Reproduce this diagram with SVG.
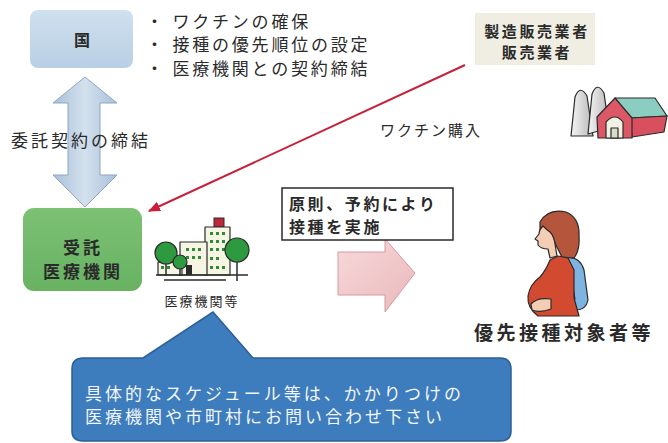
<svg xmlns="http://www.w3.org/2000/svg" width="668" height="443" viewBox="0 0 668 443">
  <defs>
    <style>
      .jp { font-family: "Noto Sans CJK JP", "Noto Sans CJK SC", "DejaVu Sans", sans-serif; fill: #2a2a2a; }
      .b { font-weight: bold; }
      .ink { stroke: #2a2a2a; stroke-width: 1.2; stroke-linejoin: round; }
      .win { fill: #2f8a3a; }
    </style>
    <linearGradient id="gBlue" x1="0" y1="0" x2="0" y2="1">
      <stop offset="0" stop-color="#cfe0ef"/>
      <stop offset="1" stop-color="#b9cfe4"/>
    </linearGradient>
    <linearGradient id="gGreen" x1="0" y1="0" x2="0" y2="1">
      <stop offset="0" stop-color="#7cc174"/>
      <stop offset="1" stop-color="#68b262"/>
    </linearGradient>
    <linearGradient id="gArrow" x1="0" y1="0" x2="1" y2="0">
      <stop offset="0" stop-color="#a9c0d8"/>
      <stop offset="0.5" stop-color="#d3e1ee"/>
      <stop offset="1" stop-color="#a9c0d8"/>
    </linearGradient>
    <linearGradient id="gPink" x1="0" y1="0" x2="1" y2="1">
      <stop offset="0" stop-color="#f7d9da"/>
      <stop offset="1" stop-color="#eab8bb"/>
    </linearGradient>
    <linearGradient id="gSilo" x1="0" y1="0" x2="1" y2="0">
      <stop offset="0" stop-color="#f4f4f4"/>
      <stop offset="1" stop-color="#b8b8b8"/>
    </linearGradient>
    <marker id="redHead" viewBox="0 0 12 10" refX="11" refY="5" markerWidth="12" markerHeight="10" markerUnits="userSpaceOnUse" orient="auto">
      <path d="M0 0 L12 5 L0 10 Z" fill="#c8203a"/>
    </marker>
  </defs>

  <rect width="668" height="443" fill="#ffffff"/>

  <!-- connectors -->
  <g id="connectors">
    <!-- two-way contract arrow -->
    <path d="M85 77 L117 103 L100 103 L100 175 L117 175 L85 207 L53 175 L68 175 L68 103 L53 103 Z"
          fill="url(#gArrow)" stroke="#8ea6c0" stroke-width="1"/>
    <!-- vaccine purchase line -->
    <line x1="465" y1="65" x2="149" y2="211" stroke="#c8203a" stroke-width="2" marker-end="url(#redHead)"/>
    <!-- vaccination block arrow -->
    <path d="M338 252 L385 252 L385 239 L415 273 L385 312 L385 295 L338 295 Z"
          fill="url(#gPink)" stroke="#d39aa0" stroke-width="1"/>
  </g>

  <!-- national government -->
  <g id="kuni">
    <rect x="30" y="10" width="103" height="58" rx="8" fill="url(#gBlue)"/>
    <text class="jp b" x="82" y="46" font-size="16" text-anchor="middle" fill="#1e2b45">国</text>
  </g>

  <!-- government duties -->
  <g id="duties">
    <text class="jp" x="146" y="28" font-size="17" letter-spacing="2.8">・ ワクチンの確保</text>
    <text class="jp" x="146" y="51" font-size="17" letter-spacing="2.8">・ 接種の優先順位の設定</text>
    <text class="jp" x="146" y="75" font-size="17" letter-spacing="2.8">・ 医療機関との契約締結</text>
  </g>

  <text id="contract-label" class="jp" x="11" y="147" font-size="17" letter-spacing="3">委託契約の締結</text>

  <!-- manufacturer -->
  <g id="maker">
    <rect x="475" y="13" width="120" height="52" fill="#f0ede2"/>
    <text class="jp b" x="537" y="37" font-size="15" letter-spacing="2.6" text-anchor="middle">製造販売業者</text>
    <text class="jp b" x="537" y="58" font-size="15" letter-spacing="2.6" text-anchor="middle">販売業者</text>
  </g>

  <!-- factory illustration -->
  <g id="factory">
    <path class="ink" d="M571 136 L575 97 Q580 84 587 96 L593 136 Z" fill="url(#gSilo)"/>
    <path class="ink" d="M588 134 L592 94 Q597 81 604 93 L609 128 Z" fill="url(#gSilo)"/>
    <!-- roof -->
    <path class="ink" d="M615 98 L655 98 L667 116 L630 118 Z" fill="#8ccdc2"/>
    <!-- side wall -->
    <path class="ink" d="M630 118 L667 116 L664 132 L632 137 Z" fill="#d8505e"/>
    <!-- gable front -->
    <path class="ink" d="M597 117 L615 98 L632 118 L632 138 L598 138 Z" fill="#dc5866"/>
    <path class="ink" d="M606 122 Q615 112 623 122 L623 138 L606 138 Z" fill="#f1f0e4"/>
    <rect class="ink" x="611" y="128" width="7" height="10" fill="#d9dcc8"/>
  </g>

  <text id="purchase-label" class="jp" x="380" y="136" font-size="15" letter-spacing="2">ワクチン購入</text>

  <!-- contracted medical institution -->
  <g id="iryokikan">
    <rect x="23" y="208" width="119" height="83" rx="11" fill="url(#gGreen)"/>
    <text class="jp b" x="83" y="254" font-size="17" letter-spacing="3" text-anchor="middle" fill="#1c2a1c">受託</text>
    <text class="jp b" x="83" y="278" font-size="17" letter-spacing="3" text-anchor="middle" fill="#1c2a1c">医療機関</text>
  </g>

  <!-- hospital illustration -->
  <g id="hospital">
    <rect x="214" y="218" width="10" height="9" fill="#c0283a" stroke="#2a2a2a" stroke-width="1"/>
    <rect class="ink" x="205" y="227" width="25" height="48" fill="#f6f4e2"/>
    <rect class="ink" x="180" y="242" width="27" height="33" fill="#f6f4e2"/>
    <rect class="ink" x="158" y="262" width="24" height="13" fill="#f6f4e2"/>
    <g class="win">
      <rect x="210" y="232" width="3" height="3"/><rect x="216" y="232" width="3" height="3"/><rect x="222" y="232" width="3" height="3"/>
      <rect x="210" y="240" width="3" height="3"/><rect x="216" y="240" width="3" height="3"/><rect x="222" y="240" width="3" height="3"/>
      <rect x="210" y="248" width="3" height="3"/><rect x="216" y="248" width="3" height="3"/><rect x="222" y="248" width="3" height="3"/>
      <rect x="210" y="257" width="3" height="3"/><rect x="216" y="257" width="3" height="3"/>
      <rect x="210" y="266" width="3" height="3"/><rect x="216" y="266" width="3" height="3"/><rect x="222" y="266" width="3" height="3"/>
      <rect x="186" y="248" width="3" height="3"/><rect x="192" y="248" width="3" height="3"/><rect x="198" y="248" width="3" height="3"/>
      <rect x="186" y="256" width="3" height="3"/><rect x="192" y="256" width="3" height="3"/><rect x="198" y="256" width="3" height="3"/>
      <rect x="186" y="265" width="6" height="10" fill="#2a2a2a"/>
      <rect x="161" y="266" width="3" height="3"/><rect x="167" y="266" width="3" height="3"/>
    </g>
    <!-- trees -->
    <line x1="166" y1="260" x2="166" y2="276" stroke="#2a2a2a" stroke-width="1.5"/>
    <circle class="ink" cx="166" cy="253" r="11" fill="#2e9a3f"/>
    <line x1="180" y1="266" x2="180" y2="276" stroke="#2a2a2a" stroke-width="1.5"/>
    <circle class="ink" cx="180" cy="262" r="7" fill="#2e9a3f"/>
    <line x1="237" y1="258" x2="237" y2="281" stroke="#2a2a2a" stroke-width="1.5"/>
    <circle class="ink" cx="237" cy="250" r="12" fill="#2e9a3f"/>
    <!-- ground -->
    <line x1="156" y1="275" x2="248" y2="275" stroke="#2a2a2a" stroke-width="1.5"/>
    <line x1="164" y1="280" x2="226" y2="280" stroke="#2a2a2a" stroke-width="1.5"/>
    <text class="jp" x="202" y="306" font-size="13" letter-spacing="2" text-anchor="middle">医療機関等</text>
  </g>

  <!-- vaccination note -->
  <g id="yoyaku">
    <rect x="282" y="188" width="171" height="52" fill="#ffffff" stroke="#2a2a2a" stroke-width="1.5"/>
    <text class="jp b" x="289" y="210" font-size="16" letter-spacing="2.6">原則、予約により</text>
    <text class="jp b" x="289" y="233" font-size="16" letter-spacing="2.6">接種を実施</text>
  </g>

  <!-- priority recipients (pregnant woman) -->
  <g id="recipient">
    <!-- hair -->
    <path class="ink" d="M540 222 Q548 208 566 212 Q580 218 579 236 Q580 250 574 258 L562 257 Q556 246 552 236 Q546 232 540 230 Z" fill="#b5553c"/>
    <!-- sleeve arm -->
    <path class="ink" d="M566 258 Q580 256 584 270 L588 300 Q586 310 576 310 L550 309 L551 300 L575 299 L571 276 Z" fill="#7fb3e2"/>
    <!-- dress -->
    <path class="ink" d="M550 260 L558 256 L568 258 L574 270 L574 298 L579 316 L538 316 Q527 308 528 296 Q530 284 540 277 Q546 270 550 260 Z" fill="#d24a30"/>
    <!-- face and neck -->
    <path class="ink" d="M543 226 Q539 230 539 234 L535 239 L538 241 L538 245 Q541 249 548 249 L550 258 L557 256 L555 244 Q554 236 550 232 Q547 230 543 226 Z" fill="#f4cdb5"/>
    <!-- hands -->
    <path class="ink" d="M531 304 Q537 297 551 299 L551 309 Q540 313 532 310 Z" fill="#f4cdb5"/>
    <text class="jp b" x="474" y="340" font-size="19" letter-spacing="3.5">優先接種対象者等</text>
  </g>

  <!-- inquiry callout -->
  <g id="callout">
    <path d="M83 358 L143 358 L213 312 L253 358 L500 358 Q511 358 511 369 L511 431 Q511 441 500 441 L83 441 Q72 441 72 431 L72 369 Q72 358 83 358 Z"
          fill="#3d7cbd" stroke="#2b5f98" stroke-width="1.5"/>
    <text class="jp" x="85" y="400" font-size="17" letter-spacing="3" style="fill:#f4f7fb">具体的なスケジュール等は、かかりつけの</text>
    <text class="jp" x="85" y="423" font-size="17" letter-spacing="3" style="fill:#f4f7fb">医療機関や市町村にお問い合わせ下さい</text>
  </g>
</svg>
